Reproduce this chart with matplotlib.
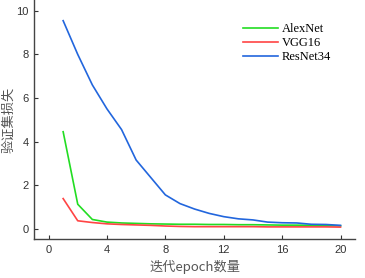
import matplotlib
matplotlib.use("Agg")
from matplotlib import pyplot as plt

epochs = list(range(1, 21))
alexnet = [4.45, 1.12, 0.42, 0.30, 0.26, 0.24, 0.22, 0.21, 0.20, 0.20,
           0.19, 0.19, 0.18, 0.18, 0.17, 0.16, 0.16, 0.15, 0.14, 0.13]
vgg16 = [1.38, 0.36, 0.28, 0.22, 0.19, 0.17, 0.15, 0.12, 0.10, 0.09,
         0.09, 0.09, 0.09, 0.09, 0.08, 0.08, 0.08, 0.08, 0.08, 0.07]
resnet34 = [9.55, 8.0, 6.6, 5.5, 4.55, 3.15, 2.35, 1.55, 1.15, 0.9,
            0.7, 0.55, 0.45, 0.4, 0.3, 0.27, 0.26, 0.2, 0.19, 0.15]
xticks = [0, 4, 8, 12, 16, 20]
yticks = [0, 2, 4, 6, 8, 10]

fig = plt.figure(figsize=(3.65, 2.78), dpi=100)
ax = fig.add_axes([0.093, 0.14, 0.88, 0.86])

ax.plot(epochs, alexnet, color='#22dd22', lw=1.2, label='AlexNet')
ax.plot(epochs, vgg16, color='#ff4444', lw=1.2, label='VGG16')
ax.plot(epochs, resnet34, color='#2266dd', lw=1.2, label='ResNet34')

ax.set_xlim(-1, 21)
ax.set_ylim(-0.48, 10.5)
ax.set_xticks(xticks)
ax.set_yticks(yticks)
ax.tick_params(direction='in', length=3, width=0.8, labelsize=8,
               colors='#333333', labelcolor='#333333', pad=4)
for lbl in ax.get_xticklabels() + ax.get_yticklabels():
    lbl.set_family('Liberation Sans')

for s in ['top', 'right']:
    ax.spines[s].set_visible(False)
for s in ['left', 'bottom']:
    ax.spines[s].set_color('#444444')
    ax.spines[s].set_linewidth(1.0)

ax.set_xlabel('迭代epoch数量', fontsize=9.5, color='#555555',
              family=['Noto Sans CJK SC', 'DejaVu Sans'], labelpad=4)
ax.set_ylabel('验证集损失', fontsize=9.5, color='#555555',
              family=['Noto Sans CJK SC', 'DejaVu Sans'])
ax.yaxis.set_label_coords(-0.058, 0.5)

ax.legend(loc='upper left', bbox_to_anchor=(0.615, 0.95), frameon=False,
          handlelength=2.8, handletextpad=0.3, labelspacing=0.15,
          prop={'family': 'Liberation Serif', 'size': 9})

fig.savefig('out.png', dpi=100)
